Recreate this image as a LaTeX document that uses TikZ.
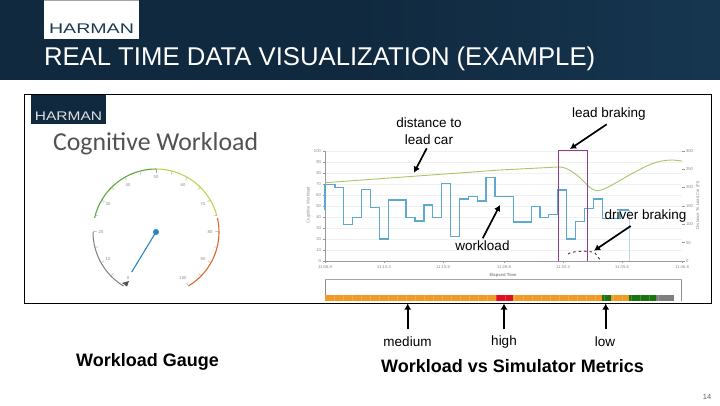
\documentclass[tikz,border=0pt]{standalone}
\usepackage{fontspec}
\setmainfont{Liberation Sans}
\newfontfamily\lightfont{Carlito}
\usetikzlibrary{arrows.meta,calc}
\definecolor{navy}{HTML}{10293F}
\definecolor{navymid}{HTML}{163650}
\definecolor{logoink}{HTML}{1B3A52}
\definecolor{fineink}{HTML}{8A8A8A}
\definecolor{wlblue}{HTML}{5FA8CF}
\definecolor{distgreen}{HTML}{A9C765}
\definecolor{brakepurple}{HTML}{8C3F8F}
\definecolor{barorange}{HTML}{F09A28}
\definecolor{barred}{HTML}{E01020}
\definecolor{bargreen}{HTML}{1B7410}
\definecolor{bargray}{HTML}{7F7F7F}
\definecolor{needleblue}{HTML}{2A86BE}
\definecolor{gaugegreen}{HTML}{5DA83C}
\definecolor{gaugeyellow}{HTML}{C4D24A}
\definecolor{gaugeorange}{HTML}{D8682C}
\tikzset{
  every node/.style={inner sep=0pt,outer sep=0pt},
  callout/.style={font=\fontsize{13.5}{16.5}\selectfont,align=center,text=black},
  heading/.style={font=\fontsize{18}{21}\selectfont\bfseries,text=black},
  tiny/.style={font=\fontsize{4.2}{5}\selectfont,text=fineink},
  pointer/.style={draw=black,line width=1.7pt,-{Latex[length=6pt,width=7pt]}},
  gridrule/.style={draw=black!6,line width=.4pt},
  axisrule/.style={draw=black!40,line width=.4pt},
  gaugetick/.style={draw=black!35,line width=.4pt}
}
\begin{document}
\begin{tikzpicture}[x=1pt,y=-1pt]
\useasboundingbox (0,0) rectangle (720,405);
\fill[white] (0,0) rectangle (720,405);
% header
\shade[left color=navy,right color=navymid,middle color=navy] (0,0) rectangle (720,79);
\fill[white] (44,0) rectangle (139,39);
\draw[black!35,line width=.8pt] (44,.3) -- (139,.3);
\node[font=\fontsize{14}{16}\selectfont,text=logoink,xscale=1.4] (logo) at (91.5,28.3) {HARMAN};
\node[font=\fontsize{25.7}{28}\selectfont,text=white,anchor=west] (title) at (44,58.5) {REAL TIME DATA VISUALIZATION (EXAMPLE)};
% frame
\draw[black,line width=.9pt] (24.5,94.5) rectangle (711,303.5);
\fill[navy] (31,95) rectangle (106,123.5);
\node[font=\fontsize{12.5}{14}\selectfont,text=white!85!navy,xscale=1.24] (logob) at (68.5,115.7) {HARMAN};
\node[font=\fontsize{25.8}{28}\selectfont\lightfont,text=black!68,anchor=west] (cw) at (53,143.5) {Cognitive Workload};
% gauge
\coordinate (gc) at (156,232);
\draw[black!50,line width=1pt] ($(gc)+(180:63)$) arc[start angle=180,end angle=121,radius=63];
\fill[black!70] (122,283) -- (129,281) -- (127,286.5) -- cycle;
\draw[draw=gaugegreen,line width=1.1pt] ($(gc)+(-167:63)$) arc[start angle=-167,end angle=-90,radius=63];
\draw[draw=gaugeyellow,line width=1.1pt] ($(gc)+(-90:63)$) arc[start angle=-90,end angle=-15,radius=63];
\draw[draw=gaugeorange,line width=1.1pt] ($(gc)+(-13:63)$) arc[start angle=-13,end angle=59,radius=63];
\foreach \a in {0,...,20} {
  \draw[gaugetick] ($(gc)+({121+14.9*\a}:63)$) -- ($(gc)+({121+14.9*\a}:59.5)$);
}
\foreach \lab/\lx/\ly in {0/128/278,10/108/259,20/101/232,30/108/204,40/128/185,50/156/177,60/183/185,70/203/204,80/210/232,90/203/259,100/183/278} {
  \node[tiny] at (\lx,\ly) {\lab};
}
\draw[draw=needleblue,line width=1.1pt] (gc) -- (131.7,272);
\fill[needleblue] (gc) circle (3);
% chart grid and axes
\foreach \v in {0,10,...,100} {
  \draw[gridrule] (325,{261-1.103*\v}) -- (682,{261-1.103*\v});
  \draw[axisrule] (322.5,{261-1.103*\v}) -- (325,{261-1.103*\v});
  \node[tiny,anchor=east] at (321,{261-1.103*\v}) {\v};
}
\foreach \v/\r in {0/0,50/1,100/2,150/3,200/4,250/5,300/6} {
  \draw[axisrule] (682,{261-18.38*\r}) -- (684.5,{261-18.38*\r});
  \node[tiny,anchor=west] at (686,{261-18.38*\r}) {\v};
}
\draw[axisrule] (325,150.7) -- (325,261) -- (682,261);
\foreach \t/\tx in {11:06.8/325,11:10.2/384,11:15.6/443,11:26.8/504,11:32.2/563,11:35.6/622,11:46.8/682} {
  \draw[axisrule] (\tx,261) -- (\tx,263);
  \node[tiny] at (\tx,267.5) {\t};
}
\node[tiny,rotate=90] (ylab) at (308.5,205) {Cognitive Workload};
\node[tiny,rotate=90] (ylabr) at (698,205) {Distance To Lead Car (Ft)};
\node[tiny,font=\fontsize{4.2}{5}\selectfont\bfseries] (xlab) at (503,275) {Elapsed Time};
% distance line
\draw[distgreen,line width=.9pt] (325,182.7) -- (500,170) -- (558,167) .. controls (565,166.5) and (570,170) .. (578,176) .. controls (585,182) and (590,190) .. (597,190.7) .. controls (604,191) and (620,180) .. (633,173) .. controls (645,167) and (655,160) .. (673,160) -- (682,161);
% workload line
\draw[wlblue,line width=1.2pt,line join=miter]
 (325,210) -- (325,184.3) -- (335,184.3) -- (335,187.3) -- (343.3,187.3) -- (343.3,224.3) -- (352.7,224.3) -- (352.7,217.3) -- (361.7,217.3) -- (361.7,189.3) -- (370.7,189.3) -- (370.7,207.3) -- (379.3,207.3) -- (379.3,239) -- (388.3,239) -- (388.3,200) -- (406,200) -- (406,217.3) -- (415,217.3) -- (415,221) -- (424,221) -- (424,205) -- (432.7,205) -- (432.7,217.7) -- (441.7,217.7) -- (441.7,183.3) -- (450.7,183.3) -- (450.7,236.7) -- (459.3,236.7) -- (459.3,199) -- (468.3,199) -- (468.3,196.7) -- (477.3,196.7) -- (477.3,201) -- (486,201) -- (486,177.3) -- (495,177.3) -- (495,196.7) -- (513.3,196.7) -- (513.3,222) -- (531.7,222) -- (531.7,206.7) -- (540,206.7) -- (540,217.3) -- (548.7,217.3) -- (548.7,214.3) -- (557.3,214.3) -- (557.3,190) -- (566.7,190) -- (566.7,239) -- (575.3,239) -- (575.3,221.7) -- (584.7,221.7) -- (584.7,208.3) -- (593.3,208.3) -- (593.3,199) -- (602.3,199) -- (602.3,218.3) -- (611,218.3) -- (620,218.3) -- (620,210) -- (629,210);
\draw[wlblue!45,line width=.8pt] (629,210) -- (629,261);
% braking marks
\draw[brakepurple,line width=1.1pt] (558.3,261) -- (558.3,150.7) -- (587.7,150.7) -- (587.7,261);
\draw[brakepurple!70!black,line width=1pt,dash pattern=on 2.5pt off 3pt] (568,254) .. controls (571,251) and (590,250) .. (595,253) -- (601,261);
% timeline strip
\draw[black!45,line width=.5pt] (325,300.7) -- (325,279) -- (681.7,279) -- (681.7,300.7);
\draw[black!35,line width=1pt] (325,279) -- (681.7,279);
\fill[barorange] (325,295) rectangle (496,300.7);
\fill[barred] (496,295) rectangle (513,300.7);
\fill[barorange] (513,295) rectangle (602.3,300.7);
\fill[bargreen] (602.3,295) rectangle (611,300.7);
\fill[barorange] (611,295) rectangle (629,300.7);
\fill[bargreen] (629,295) rectangle (656,300.7);
\fill[bargray] (656,295) rectangle (674,300.7);
\foreach \sx in {334,343,...,665} {
  \draw[white,opacity=.18,line width=.4pt] (\sx,295) -- (\sx,300.7);
}
% labels
\node[callout] (distlab) at (429,131) {distance to\\lead car};
\node[callout] (leadlab) at (609,114.5) {lead braking};
\node[callout] (drivelab) at (645.5,216) {driver braking};
\node[callout] (worklab) at (482.5,245.5) {workload};
\node[callout] (medlab) at (407.5,342) {medium};
\node[callout] (highlab) at (504,342) {high};
\node[callout] (lowlab) at (605,342) {low};
\node[heading] (gaugehead) at (147.5,361.5) {Workload Gauge};
\node[heading] (metrichead) at (512.5,366) {Workload vs Simulator Metrics};
\node[font=\fontsize{7.5}{9}\selectfont,text=black!60] (pageno) at (707,397) {14};
% arrow anchors
\coordinate (distfrom) at (426.7,148.3);
\coordinate (distto) at (414,172.7);
\coordinate (leadfrom) at (606.7,124.3);
\coordinate (leadto) at (570,149);
\coordinate (drivefrom) at (630.7,226);
\coordinate (driveto) at (594,250.7);
\coordinate (workfrom) at (482.7,238.3);
\coordinate (workto) at (500,205);
\coordinate (medfrom) at (407.7,329);
\coordinate (medto) at (407.7,303.5);
\coordinate (highfrom) at (504,329);
\coordinate (highto) at (504,303.5);
\coordinate (lowfrom) at (605.7,329);
\coordinate (lowto) at (605.7,303.5);
\draw[pointer] (distfrom) -- (distto);
\draw[pointer] (leadfrom) -- (leadto);
\draw[pointer] (drivefrom) -- (driveto);
\draw[pointer] (workfrom) -- (workto);
\draw[pointer] (medfrom) -- (medto);
\draw[pointer] (highfrom) -- (highto);
\draw[pointer] (lowfrom) -- (lowto);
\end{tikzpicture}
\end{document}
